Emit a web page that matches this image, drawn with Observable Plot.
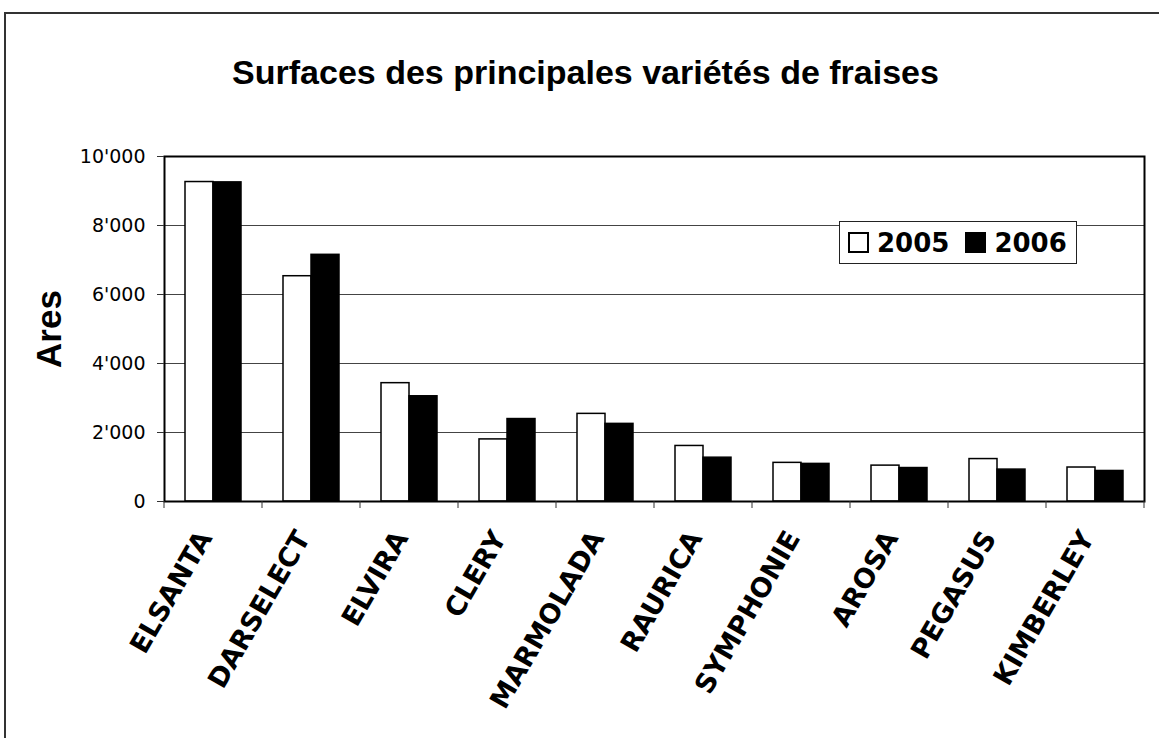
<!DOCTYPE html>
<html><head><meta charset="utf-8">
<script src="https://cdn.jsdelivr.net/npm/d3@7"></script>
<script src="https://cdn.jsdelivr.net/npm/@observablehq/plot@0.6"></script>
<style>
body{margin:0;background:#fff;}
#wrap{position:relative;width:1159px;height:738px;overflow:hidden;background:#fff;}
#border{position:absolute;left:4px;top:12px;width:1300px;height:900px;border-top:2px solid #333;border-left:2px solid #333;}
#title{position:absolute;left:6px;width:1159px;top:55px;text-align:center;font-family:"Liberation Sans",Arial,sans-serif;font-weight:bold;font-size:34px;line-height:34px;color:#000;}
#chart{position:absolute;left:0;top:0;}
#legend{position:absolute;left:839px;top:221px;width:236px;height:41px;border:1px solid #222;background:#fff;display:flex;align-items:center;font-family:"DejaVu Sans",sans-serif;font-weight:bold;font-size:26px;color:#000;}
#legend .sw{width:17px;height:17px;border:2px solid #000;box-sizing:content-box;}
</style>
</head><body>
<div id="wrap">
  <div id="border"></div>
  <div id="chart"></div>
  <div id="title">Surfaces des principales variétés de fraises</div>
  <div id="legend"></div>
</div>
<script>
const varieties = ["ELSANTA","DARSELECT","ELVIRA","CLERY","MARMOLADA","RAURICA","SYMPHONIE","AROSA","PEGASUS","KIMBERLEY"];
const years = ["2005","2006"];
const surface2005 = [9260, 6530, 3430, 1800, 2540, 1610, 1120, 1040, 1230, 985];
const surface2006 = [9250, 7150, 3050, 2390, 2250, 1270, 1090, 970, 925, 885];
const yTicks = [0, 2000, 4000, 6000, 8000, 10000];
const yLabel = "Ares";
const yearColors = ["white", "black"];

const table = varieties.flatMap((v, i) => [
  {variety: v, year: years[0], value: surface2005[i]},
  {variety: v, year: years[1], value: surface2006[i]}
]);

const fmt = d => d3.format(",")(d).replace(/,/g, "'");

const plot = Plot.plot({
  width: 1159,
  height: 738,
  marginLeft: 164,
  marginRight: 15,
  marginTop: 156,
  marginBottom: 237,
  style: {fontFamily: "DejaVu Sans", background: "transparent", overflow: "visible"},
  fx: {domain: varieties, padding: 0, label: null},
  x: {domain: years, paddingInner: 0, paddingOuter: 0.75, axis: null},
  y: {domain: [0, 10000]},
  color: {domain: years, range: yearColors},
  marks: [
    Plot.ruleY(yTicks.filter(d => d > 0 && d < 10000), {stroke: "#444", strokeWidth: 1}),
    Plot.barY(table, {fx: "variety", x: "year", y: "value", fill: "year", stroke: "black", strokeWidth: 1.5}),
    Plot.frame({facet: "super", stroke: "black", strokeWidth: 2}),
    Plot.axisY({ticks: yTicks, tickFormat: fmt, tickSize: 7, tickPadding: 12, fontSize: 19, fontFamily: "DejaVu Sans", label: null, stroke: "#333"}),
    Plot.axisFx({anchor: "bottom", tickSize: 0, tickRotate: -60, tickPadding: 32, dx: -8, fontSize: 27, fontWeight: "bold", fontFamily: "DejaVu Sans", label: null}),
    Plot.text([yLabel], {facet: "super", frameAnchor: "left", textAnchor: "middle", dx: -115, rotate: -90, fontSize: 35, fontWeight: "bold", fontFamily: "Liberation Sans", fill: "black"})
  ]
});
document.getElementById("chart").appendChild(plot);

// category boundary ticks from the fx scale
const fx = plot.scale("fx");
const yb = plot.scale("y").apply(0);
const bounds = varieties.map(v => fx.apply(v)).concat([fx.range[1]]);
d3.select(plot).append("g")
  .selectAll("line").data(bounds).join("line")
  .attr("x1", d => d).attr("x2", d => d)
  .attr("y1", yb).attr("y2", yb + 7)
  .attr("stroke", "#333");

// legend
const lg = d3.select("#legend");
years.forEach((y, i) => {
  lg.append("div").attr("class", "sw")
    .style("background", yearColors[i])
    .style("margin-left", i === 0 ? "8px" : "16px");
  lg.append("span").text(y).style("margin-left", "8px");
});
</script>
</body></html>
